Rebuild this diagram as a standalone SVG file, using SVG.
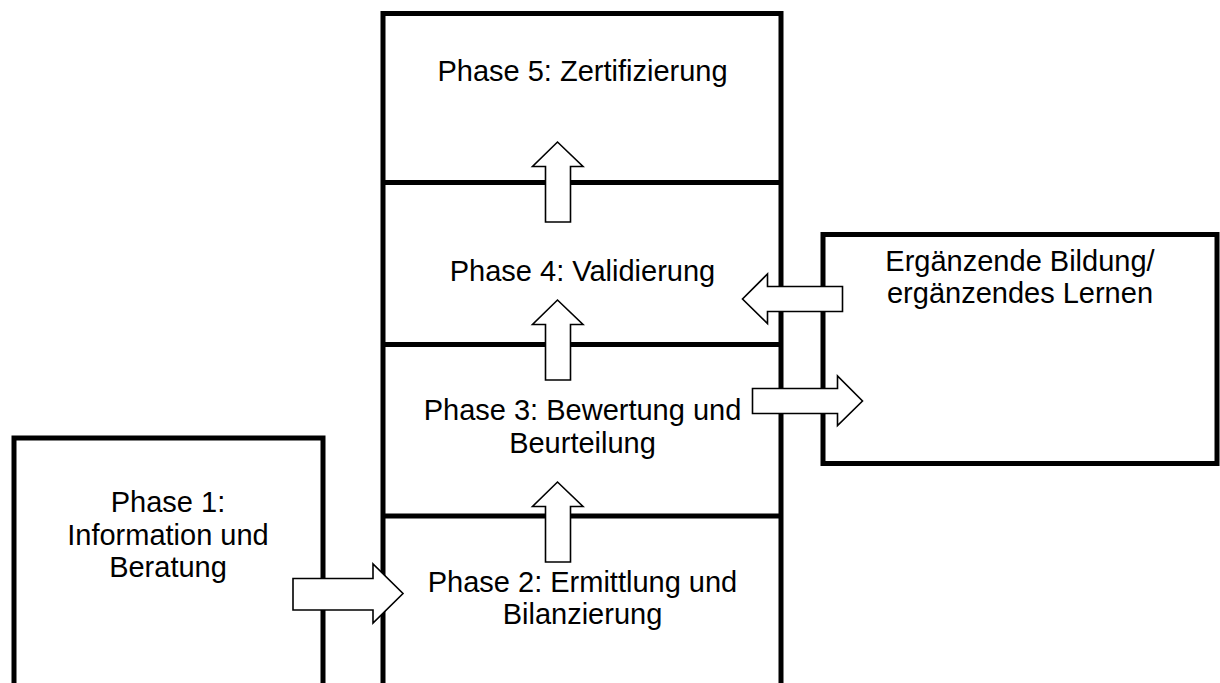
<svg xmlns="http://www.w3.org/2000/svg" width="1220" height="683" viewBox="0 0 1220 683">
<style>
.box{fill:none;stroke:#000;stroke-width:5}
.arr{fill:#fff;stroke:#000;stroke-width:1.6;stroke-linejoin:miter}
text{font-family:"Liberation Sans",Arial,sans-serif;font-size:29px;fill:#000;text-anchor:middle}
</style>
<rect width="1220" height="683" fill="#fff"/>
<g id="column">
<path class="box" d="M383,690 V13.5 H781 V690"/>
</g>
<g id="phase5"><text x="582.5" y="81">Phase 5: Zertifizierung</text></g>
<g id="phase4"><line class="box" x1="383" y1="182.5" x2="781" y2="182.5"/><text x="582.5" y="281">Phase 4: Validierung</text></g>
<g id="phase3"><line class="box" x1="383" y1="344.5" x2="781" y2="344.5"/><text x="582.5" y="420">Phase 3: Bewertung und</text><text x="582.5" y="453">Beurteilung</text></g>
<g id="phase2"><line class="box" x1="383" y1="516" x2="781" y2="516"/><text x="582.5" y="592">Phase 2: Ermittlung und</text><text x="582.5" y="624">Bilanzierung</text></g>
<g id="phase1"><path class="box" d="M14,690 V438 H323 V690"/><text x="168" y="512">Phase 1:</text><text x="168" y="545">Information und</text><text x="168" y="577">Beratung</text></g>
<g id="ergaenzend"><rect class="box" x="823" y="234.5" width="394" height="229"/><text x="1020" y="271">Ergänzende Bildung/</text><text x="1020" y="303">ergänzendes Lernen</text></g>
<g id="connectors">
<path class="arr" d="M545.5,222 V166.5 H532.5 L557.5,142 L583,166.5 H570.5 V222 Z"/>
<path class="arr" d="M545.5,380 V324.5 H532.5 L557.5,300 L583,324.5 H570.5 V380 Z"/>
<path class="arr" d="M545.5,562 V506.5 H532.5 L557.5,482 L583,506.5 H570.5 V562 Z"/>
<path class="arr" d="M842.5,286.5 V311.5 H767.5 V323.5 L742.5,299 L767.5,274 V286.5 Z"/>
<path class="arr" d="M752.5,388.5 V413.5 H837.5 V425.5 L862.5,401 L837.5,376 V388.5 Z"/>
<path class="arr" d="M293,578.5 V610 H373 V623 L403,593.5 L373,564 V578.5 Z"/>
</g>
</svg>
